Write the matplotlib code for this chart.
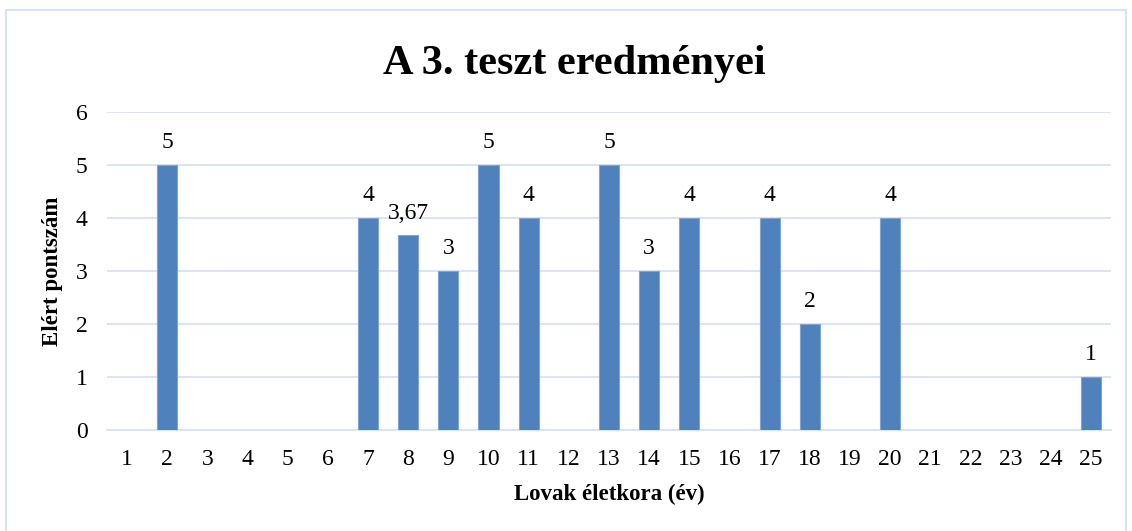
import matplotlib
matplotlib.use("Agg")
import matplotlib.pyplot as plt
from matplotlib.patches import Rectangle

categories = [str(i) for i in range(1, 26)]
values = [0, 5, 0, 0, 0, 0, 4, 3.67, 3, 5, 4, 0, 5, 3, 4, 0, 4, 2, 0, 4, 0, 0, 0, 0, 1]
labels = {2: "5", 7: "4", 8: "3,67", 9: "3", 10: "5", 11: "4", 13: "5", 14: "3",
          15: "4", 17: "4", 18: "2", 20: "4", 25: "1"}
title = "A 3. teszt eredményei"
xlabel = "Lovak életkora (év)"
ylabel = "Elért pontszám"

plt.rcParams['font.family'] = ['Liberation Serif', 'DejaVu Serif']

fig = plt.figure(figsize=(11.32, 5.31), dpi=100)
ax = fig.add_axes([107/1132, 1-430/531, (1111-107)/1132, (430-112)/531])

x = list(range(len(categories)))
edges = ["#7FA3D3" if v > 0 else "none" for v in values]
ax.bar(x, values, width=0.5, color="#4F81BD", edgecolor=edges, linewidth=0.8, zorder=3)
for i, v in enumerate(values):
    key = i + 1
    if key in labels:
        ax.text(i, v + 0.22, labels[key], ha="center", va="bottom", fontsize=17)

ax.set_xlim(-0.5, len(categories) - 0.5)
ax.set_ylim(0, 6)
ax.set_yticks(range(0, 7))
ax.set_xticks(x)
ax.set_xticklabels(categories)
ax.tick_params(axis="both", length=0, labelsize=17)
ax.tick_params(axis="x", pad=14)
ax.tick_params(axis="y", pad=14)
ax.grid(axis="y", color="#D9E2F2", linewidth=1.3, zorder=0)
for s in ["top", "right", "left"]:
    ax.spines[s].set_visible(False)
ax.spines["bottom"].set_color("#D9E2F2")
ax.spines["bottom"].set_linewidth(1.3)

ax.set_xlabel(xlabel, fontsize=16.5, fontweight="bold", labelpad=10)
ax.set_ylabel(ylabel, fontsize=16.5, fontweight="bold", labelpad=9)
fig.text(574/1132, 1-64/531, title, ha="center", va="center", fontsize=30.5, fontweight="bold")

fig.patches.append(Rectangle((6/1132, -0.05), (1126-6)/1132, (531-10)/531 + 0.05,
                             transform=fig.transFigure, fill=False,
                             edgecolor="#D6E3F5", linewidth=1.5))

fig.savefig("out.png", dpi=100)
